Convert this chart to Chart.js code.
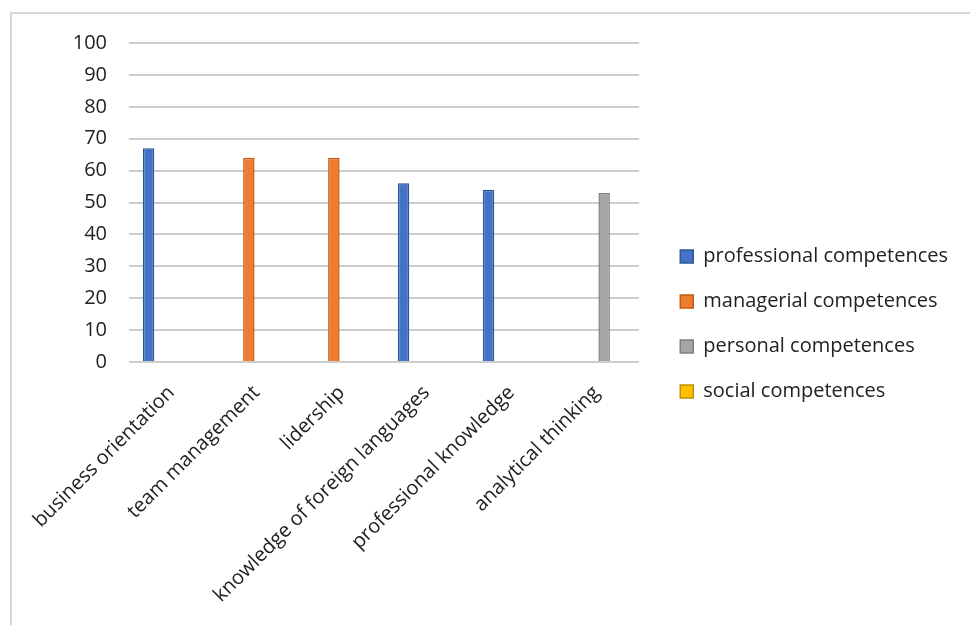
<!DOCTYPE html>
<html>
<head>
<meta charset="utf-8">
<script src="https://cdn.jsdelivr.net/npm/chart.js@4"></script>
<style>
  html, body { margin: 0; padding: 0; background: #fff; overflow: hidden; width: 970px; height: 625px; }
  #frame { position: absolute; left: 10px; top: 12px; width: 1000px; height: 640px; border: 2px solid #d6d6d6; box-sizing: border-box; }
  #wrap { position: absolute; left: 0; top: 0; width: 970px; height: 625px; }
</style>
</head>
<body>
<div id="frame"></div>
<div id="wrap"><canvas id="c" width="970" height="625"></canvas></div>
<script>
const categories = ["business orientation", "team management", "lidership", "knowledge of foreign languages", "professional knowledge", "analytical thinking"];
const seriesNames = ["professional competences", "managerial competences", "personal competences", "social competences"];
const professional = [67, null, null, 56, 54, null];
const managerial = [null, 64, 64, null, null, null];
const personal = [null, null, null, null, null, 53];
const social = [null, null, null, null, null, null];
const yTicks = [0, 10, 20, 30, 40, 50, 60, 70, 80, 90, 100];

const fills = ["#4472C4", "#ED7D31", "#A5A5A5", "#FFC000"];
const borders = ["#2F5597", "#C55A11", "#7F7F7F", "#BF9000"];
const values = [professional, managerial, personal, social];

const FONT = "'Open Sans', sans-serif";
const PLOT_RIGHT = 639;
const PAD_RIGHT = 12;

const chart = new Chart(document.getElementById('c'), {
  type: 'bar',
  data: {
    labels: categories,
    datasets: values.map((v, i) => ({
      label: seriesNames[i],
      data: v,
      backgroundColor: fills[i],
      borderColor: borders[i],
      borderWidth: 1.5,
      categoryPercentage: 0.72,
      barPercentage: 0.75
    }))
  },
  options: {
    responsive: false,
    animation: false,
    layout: { padding: { left: 0, top: 43, right: PAD_RIGHT, bottom: 20 } },
    plugins: {
      tooltip: { enabled: false },
      legend: {
        position: 'right',
        maxWidth: 600,
        labels: {
          color: '#222',
          font: { family: FONT, size: 20 },
          boxWidth: 13,
          boxHeight: 13,
          padding: 25
        }
      }
    },
    scales: {
      x: {
        grid: { display: false },
        border: { display: false },
        ticks: {
          color: '#222',
          font: { family: FONT, size: 20 },
          minRotation: 45,
          maxRotation: 45,
          autoSkip: false,
          padding: 11
        },
        afterFit: (s) => { s.height = 243; }
      },
      y: {
        min: 0,
        max: 100,
        afterBuildTicks: (s) => { s.ticks = yTicks.map(v => ({ value: v })); },
        grid: { color: '#cdcdcd', lineWidth: 2, drawTicks: false },
        border: { display: false },
        ticks: {
          color: '#222',
          font: { family: FONT, size: 20 },
          padding: 22
        },
        afterFit: (s) => { s.width = 129; }
      },
      gap: {
        type: 'linear',
        position: 'right',
        display: true,
        grid: { display: false },
        border: { display: false },
        ticks: { display: false },
        afterFit: (s) => {
          const lw = (s.chart.legend && s.chart.legend.width) ? s.chart.legend.width : 303;
          s.width = Math.max(0, s.chart.width - PAD_RIGHT - PLOT_RIGHT - lw);
        }
      }
    }
  }
});
</script>
</body>
</html>
